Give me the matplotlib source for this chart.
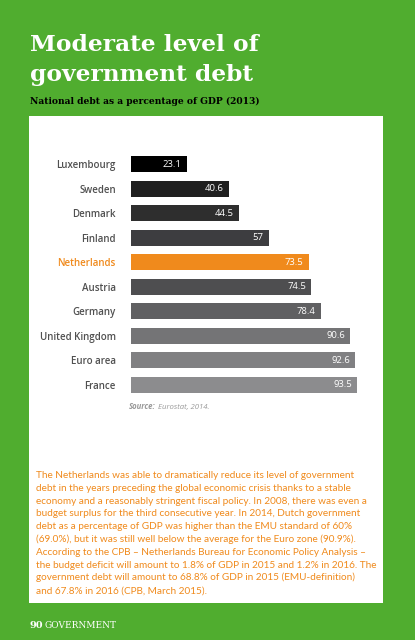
import matplotlib
matplotlib.use("Agg")
import matplotlib.pyplot as plt
from matplotlib.patches import Rectangle

# data
countries = ["Luxembourg", "Sweden", "Denmark", "Finland", "Netherlands",
             "Austria", "Germany", "United Kingdom", "Euro area", "France"]
debt = [23.1, 40.6, 44.5, 57, 73.5, 74.5, 78.4, 90.6, 92.6, 93.5]
value_labels = ["23.1", "40.6", "44.5", "57", "73.5", "74.5", "78.4", "90.6", "92.6", "93.5"]
bar_colors = ["#000000", "#1f1f1f", "#2e2e2e", "#3d3d40", "#f08a1c",
              "#4e4e50", "#606062", "#747476", "#808082", "#8c8c8e"]

title_lines = ["Moderate level of", "government debt"]
subtitle = "National debt as a percentage of GDP (2013)"
source = "Eurostat, 2014."
paragraph = [
    "The Netherlands was able to dramatically reduce its level of government",
    "debt in the years preceding the global economic crisis thanks to a stable",
    "economy and a reasonably stringent fiscal policy. In 2008, there was even a",
    "budget surplus for the third consecutive year. In 2014, Dutch government",
    "debt as a percentage of GDP was higher than the EMU standard of 60%",
    "(69.0%), but it was still well below the average for the Euro zone (90.9%).",
    "According to the CPB \u2013 Netherlands Bureau for Economic Policy Analysis \u2013",
    "the budget deficit will amount to 1.8% of GDP in 2015 and 1.2% in 2016. The",
    "government debt will amount to 68.8% of GDP in 2015 (EMU-definition)",
    "and 67.8% in 2016 (CPB, March 2015).",
]

GREEN = "#50ad2f"
ORANGE = "#f08a1c"
W, H = 415, 640

fig = plt.figure(figsize=(W / 100, H / 100), dpi=100, facecolor=GREEN)

def fx(x):
    return x / W

def fy(y):
    return 1 - y / H

# white panel
fig.patches.append(Rectangle((fx(29), fy(603)), fx(383) - fx(29), fy(116) - fy(603),
                             transform=fig.transFigure, facecolor="white",
                             edgecolor="none", zorder=-5))

# headings
for k, line in enumerate(title_lines):
    fig.text(fx(30), fy(51 + k * 30), line, color="white", family="DejaVu Serif",
             weight="bold", fontsize=16.8, va="baseline")
fig.text(fx(30), fy(104), subtitle, color="black", family="DejaVu Serif",
         weight="bold", fontsize=6.6, va="baseline")

# bar chart
ax = fig.add_axes([fx(131), fy(397), fx(373) - fx(131), fy(152) - fy(397)])
ax.set_zorder(2)
ax.set_facecolor("none")
y = range(len(countries))
ax.barh(y, debt, height=0.65, color=bar_colors)
ax.set_xlim(0, 100)
ax.set_ylim(len(countries) - 0.5, -0.5)
for s in ax.spines.values():
    s.set_visible(False)
ax.set_xticks([])
ax.set_yticks(list(y))
ax.set_yticklabels(countries, family="Open Sans", weight="semibold", fontsize=7.0)
ax.tick_params(axis="y", length=0, pad=11)
for lab, c in zip(ax.get_yticklabels(), countries):
    lab.set_color(ORANGE if c == "Netherlands" else "#505050")
for i, (v, t) in enumerate(zip(debt, value_labels)):
    ax.text(v - 2.2, i, t, color="white", fontsize=6.8, family="Open Sans",
            ha="right", va="center")

src1 = fig.text(fx(129), fy(409), "Source:", color="#999999", fontsize=5.6,
                family="Open Sans", style="italic", weight="bold", va="baseline")
fig.canvas.draw()
bb = src1.get_window_extent()
fig.text(fx(bb.x1 + 2.5), fy(409), source, color="#999999", fontsize=5.6,
         family="Open Sans", style="italic", va="baseline")

# paragraph
for k, line in enumerate(paragraph):
    fig.text(fx(36), fy(478 + k * 12.8), line, color=ORANGE, fontsize=7.2,
             family="Lato", va="baseline")

# footer
fig.text(fx(29), fy(628), "90", color="white", family="DejaVu Serif",
         weight="bold", fontsize=7, va="baseline")
fig.text(fx(44), fy(628), "GOVERNMENT", color="white", family="DejaVu Serif",
         fontsize=6.5, va="baseline")

fig.savefig("out.png", dpi=100, facecolor=GREEN)
